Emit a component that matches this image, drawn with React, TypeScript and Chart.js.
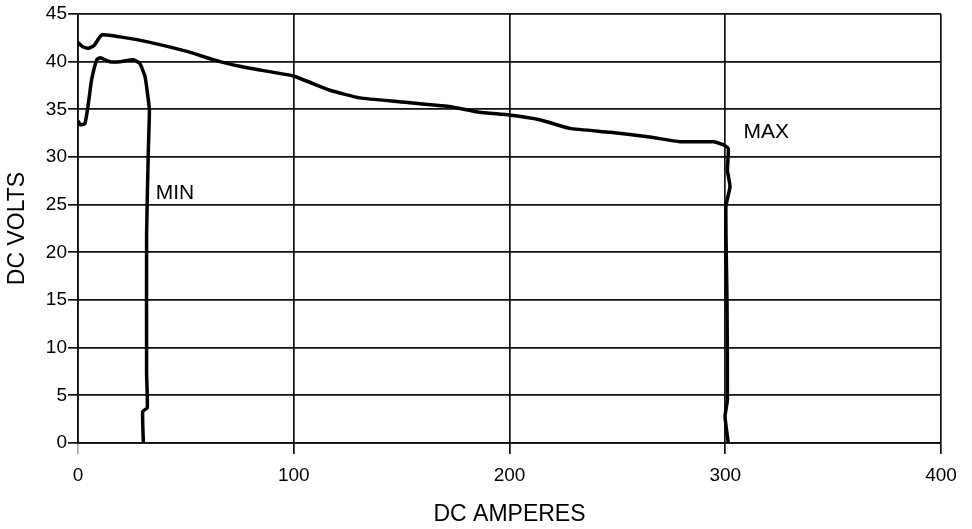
import React, { useEffect, useRef } from "react";
import { Chart, registerables } from "chart.js";

Chart.register(...registerables);

// MAX curve (DC amperes, DC volts)
const maxAmps = [0, 2, 4.8, 7.5, 11, 19.5, 31.8, 50, 65.8, 79.7, 99.7, 116.8, 130.7, 149, 172, 186, 200, 214, 228, 246.6, 265, 279, 294.5, 299, 301.4, 301, 302.2, 300.3, 300.8, 301, 299.9, 301.4];
const maxVolts = [42.0, 41.6, 41.4, 41.7, 42.8, 42.6, 42.1, 41.1, 40.0, 39.3, 38.5, 37.0, 36.2, 35.8, 35.3, 34.7, 34.4, 33.9, 33.0, 32.6, 32.1, 31.6, 31.6, 31.3, 30.9, 28.6, 26.9, 24.8, 15.0, 4.5, 2.8, 0];

// MIN curve (DC amperes, DC volts)
const minAmps = [0, 1, 3.2, 4.8, 6.3, 8.7, 10.2, 14.8, 19.5, 25.6, 28.7, 31.1, 32.3, 33.1, 32.6, 31.8, 31.8, 32.1, 30.0, 30.3];
const minVolts = [33.8, 33.4, 33.5, 35.6, 38.1, 40.2, 40.4, 40.0, 40.0, 40.2, 39.8, 38.4, 36.5, 34.9, 30.7, 22.0, 7.3, 3.7, 3.3, 0];

const xTicks = [0, 100, 200, 300, 400];
const yTicks = [0, 5, 10, 15, 20, 25, 30, 35, 40, 45];

const curveLabels = [
  { text: "MIN", amps: 36, volts: 26.2 },
  { text: "MAX", amps: 308.5, volts: 32.6 },
];

const FONT = "'Liberation Sans', Arial, Helvetica, sans-serif";

const labelPlugin = {
  id: "curveLabels",
  afterDatasetsDraw(chart: any) {
    const { ctx, scales } = chart;
    ctx.save();
    ctx.font = `21px ${FONT}`;
    ctx.fillStyle = "#000";
    ctx.textAlign = "left";
    ctx.textBaseline = "middle";
    for (const l of curveLabels) {
      ctx.fillText(l.text, scales.x.getPixelForValue(l.amps), scales.y.getPixelForValue(l.volts));
    }
    ctx.restore();
  },
};

export default function App() {
  const ref = useRef<HTMLCanvasElement>(null);
  useEffect(() => {
    if (!ref.current) return;
    const toPts = (xs: number[], ys: number[]) => xs.map((x, i) => ({ x, y: ys[i] }));
    const chart = new Chart(ref.current, {
      type: "line",
      data: {
        datasets: [
          {
            label: "MAX",
            data: toPts(maxAmps, maxVolts),
            borderColor: "#000",
            borderWidth: 3.5,
            pointRadius: 0,
            tension: 0.15,
            fill: false,
          },
          {
            label: "MIN",
            data: toPts(minAmps, minVolts),
            borderColor: "#000",
            borderWidth: 3.5,
            pointRadius: 0,
            tension: 0.15,
            fill: false,
          },
        ],
      },
      options: {
        animation: false,
        responsive: true,
        maintainAspectRatio: false,
        layout: { padding: { top: 14, right: 31, bottom: 0, left: 0 } },
        plugins: { legend: { display: false }, tooltip: { enabled: false } },
        scales: {
          x: {
            type: "linear",
            min: 0,
            max: 400,
            afterBuildTicks: (s: any) => {
              s.ticks = xTicks.map((v) => ({ value: v }));
            },
            afterFit: (s: any) => {
              s.height = 86;
            },
            grid: {
              color: "#111",
              lineWidth: 1.7,
              tickLength: 11,
              tickColor: (c: any) => (c.tick && c.tick.value === 0 ? "#aaa" : "#111"),
            },
            border: { display: true, color: "#111", width: 1.7 },
            ticks: {
              color: "#000",
              padding: 10,
              font: { family: FONT, size: 19 },
            },
            title: {
              display: true,
              text: "DC AMPERES",
              color: "#000",
              font: { family: FONT, size: 23 },
              padding: { top: 0, bottom: 1 },
            },
          },
          y: {
            type: "linear",
            min: 0,
            max: 45,
            afterBuildTicks: (s: any) => {
              s.ticks = yTicks.map((v) => ({ value: v }));
            },
            afterFit: (s: any) => {
              s.width = 78;
            },
            grid: {
              color: "#111",
              lineWidth: 1.7,
              tickLength: 10,
              tickColor: "#111",
            },
            border: { display: true, color: "#111", width: 1.7 },
            ticks: {
              color: "#000",
              padding: 1,
              font: { family: FONT, size: 19 },
            },
            title: {
              display: true,
              text: "DC VOLTS",
              color: "#000",
              font: { family: FONT, size: 23 },
              padding: { top: 4, bottom: 0 },
            },
          },
        },
      },
      plugins: [labelPlugin],
    });
    return () => chart.destroy();
  }, []);
  return (
    <div style={{ position: "fixed", left: 0, top: 0, width: 972, height: 529, background: "#fff" }}>
      <canvas ref={ref} />
    </div>
  );
}
